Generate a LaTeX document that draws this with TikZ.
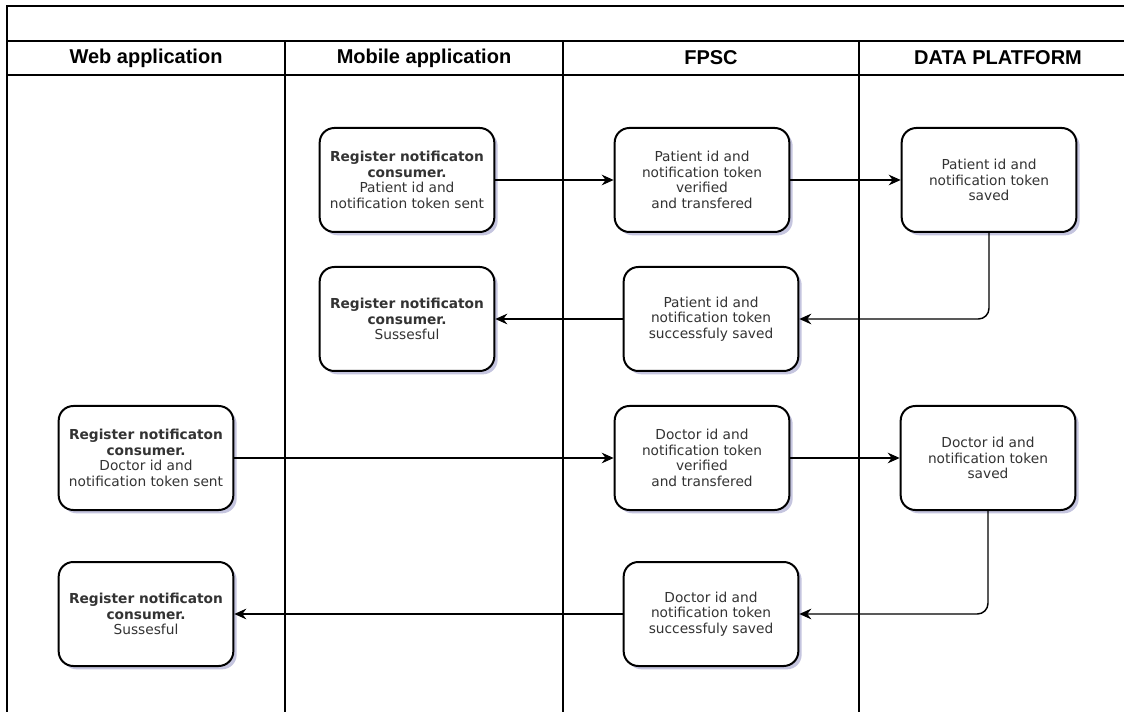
\documentclass[tikz,border=0pt]{standalone}
\usepackage{fontspec}
\setmainfont{DejaVu Sans}
\newfontfamily\lanefont{Liberation Sans}
\usetikzlibrary{arrows.meta,shadows}
\begin{document}
\begin{tikzpicture}[x=0.75pt,y=-0.75pt,
    lane/.style={line width=1.3pt},
    lanetitle/.style={font=\lanefont\bfseries\fontsize{15}{18}\selectfont},
    stepbox/.style={draw,line width=1.5pt,rounded corners=11pt,fill=white,
      minimum width=131pt,minimum height=78pt,align=center,text=black!80,
      font=\fontsize{10.3}{11.7}\selectfont,
      drop shadow={shadow xshift=2.5pt,shadow yshift=-2.5pt,fill=blue!30!gray,opacity=.35}},
    flow/.style={line width=1.1pt,-{Stealth[length=9pt,width=8pt,inset=3pt]},rounded corners=8pt}]
  \useasboundingbox[fill=white] (0,0) rectangle (1124,712);
  \clip (0,0) rectangle (1124,712);
  \draw[lane] (7,730) -- (7,6) -- (1130,6);
  \draw[lane] (7,41) -- (1130,41);
  \draw[lane] (7,75) -- (1130,75);
  \foreach \x in {285,563,859}
    \draw[lane] (\x,41) -- (\x,730);
  \node[lanetitle] (web) at (146,58) {Web application};
  \node[lanetitle] (mobile) at (424,58) {Mobile application};
  \node[lanetitle] (fpsc) at (711,58) {FPSC};
  \node[lanetitle] (platform) at (998,58) {DATA PLATFORM};

  \node[stepbox] (m1) at (407,180) {\textbf{Register notificaton}\\\textbf{consumer.}\\Patient id and\\notification token sent};
  \node[stepbox] (f1) at (702,180) {Patient id and\\notification token\\verified\\and transfered};
  \node[stepbox] (d1) at (989,180) {Patient id and\\notification token\\saved};
  \node[stepbox] (f2) at (711,319) {Patient id and\\notification token\\successfuly saved};
  \node[stepbox] (m2) at (407,319) {\textbf{Register notificaton}\\\textbf{consumer.}\\Sussesful};
  \node[stepbox] (w1) at (146,458) {\textbf{Register notificaton}\\\textbf{consumer.}\\Doctor id and\\notification token sent};
  \node[stepbox] (f3) at (702,458) {Doctor id and\\notification token\\verified\\and transfered};
  \node[stepbox] (d2) at (988,458) {Doctor id and\\notification token\\saved};
  \node[stepbox] (f4) at (711,614) {Doctor id and\\notification token\\successfuly saved};
  \node[stepbox] (w2) at (146,614) {\textbf{Register notificaton}\\\textbf{consumer.}\\Sussesful};

  \draw[flow] (m1) -- (f1);
  \draw[flow] (f1) -- (d1);
  \draw[flow] (d1.south) |- (f2.east);
  \draw[flow] (f2) -- (m2);
  \draw[flow] (w1) -- (f3);
  \draw[flow] (f3) -- (d2);
  \draw[flow] (d2.south) |- (f4.east);
  \draw[flow] (f4) -- (w2);
\end{tikzpicture}
\end{document}
